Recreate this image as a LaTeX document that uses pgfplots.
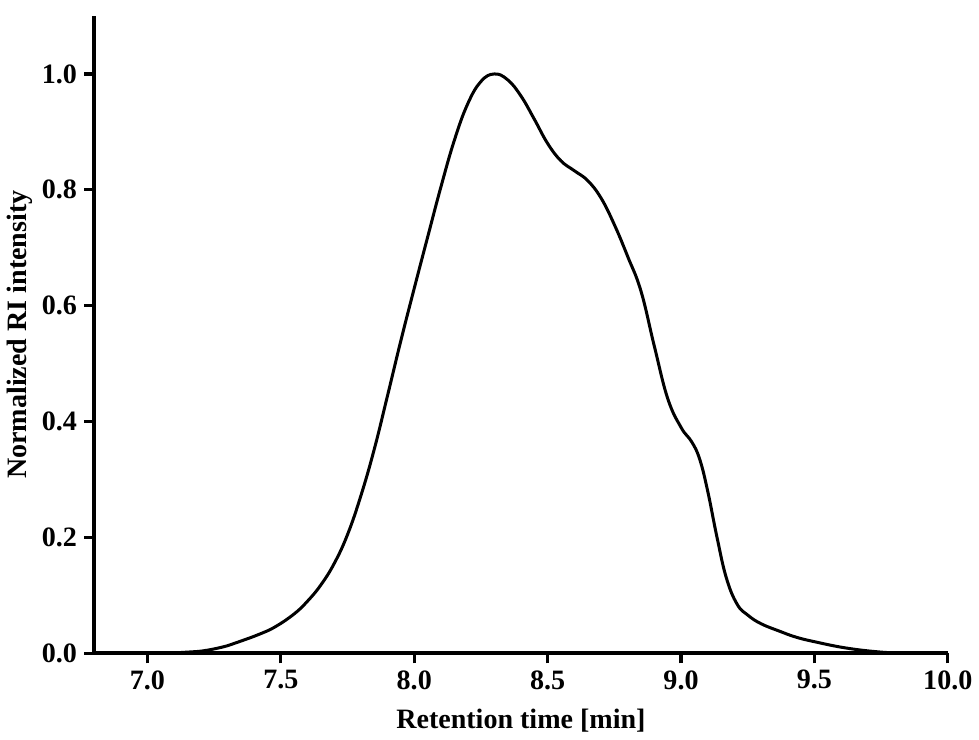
\documentclass[border=0pt]{standalone}
\usepackage{fontspec}
\setmainfont{Liberation Serif}
\usepackage{pgfplots}
\pgfplotsset{compat=1.18}
\begin{document}
\begin{tikzpicture}
\begin{axis}[
    name=main,
    scale only axis,
    width=426pt, height=318pt,
    xmin=6.8, xmax=10.0,
    ymin=0, ymax=1.1,
    axis lines*=left,
    axis line style={line width=2pt, -},
    tick align=outside,
    major tick length=5pt,
    xtick style={black, line width=1.6pt},
    ytick style={black, line width=1.6pt},
    xtick={7.0,7.5,...,10.0},
    ytick={0,0.2,...,1.0},
    xticklabel style={/pgf/number format/.cd, fixed, fixed zerofill, precision=1},
    yticklabel style={/pgf/number format/.cd, fixed, fixed zerofill, precision=1},
    /pgf/number format/assume math mode=true,
    tick label style={font=\fontsize{14}{17}\selectfont\bfseries},
    label style={font=\fontsize{14}{17}\selectfont\bfseries},
    xlabel={Retention time [min]},
    ylabel={Normalized RI intensity},
    xlabel style={yshift=-3pt},
    ylabel style={yshift=-2pt},
]
\addplot[black, line width=1.5pt, smooth, tension=0.7] coordinates {
    (6.95,0) (7.05,0) (7.15,0.002) (7.22,0.005) (7.3,0.013) (7.35,0.021)
    (7.42,0.033) (7.48,0.046) (7.55,0.068) (7.6,0.09) (7.65,0.118)
    (7.7,0.155) (7.75,0.205) (7.8,0.272) (7.85,0.352) (7.9,0.445)
    (7.95,0.54) (8.0,0.63) (8.05,0.718) (8.1,0.805) (8.15,0.885)
    (8.2,0.948) (8.25,0.987) (8.3,1.0) (8.35,0.99) (8.4,0.962)
    (8.45,0.922) (8.5,0.88) (8.55,0.85) (8.6,0.833) (8.65,0.816)
    (8.7,0.786) (8.75,0.74) (8.8,0.685) (8.85,0.625) (8.9,0.53)
    (8.95,0.44) (9.0,0.39) (9.04,0.365) (9.07,0.335)
    (9.1,0.28) (9.135,0.2) (9.17,0.13) (9.21,0.085) (9.25,0.066)
    (9.3,0.051) (9.37,0.038) (9.43,0.028) (9.5,0.02) (9.62,0.009)
    (9.75,0.002) (9.85,0)
};
\end{axis}
\path (main.north) ++(0,8pt);
\end{tikzpicture}
\end{document}
